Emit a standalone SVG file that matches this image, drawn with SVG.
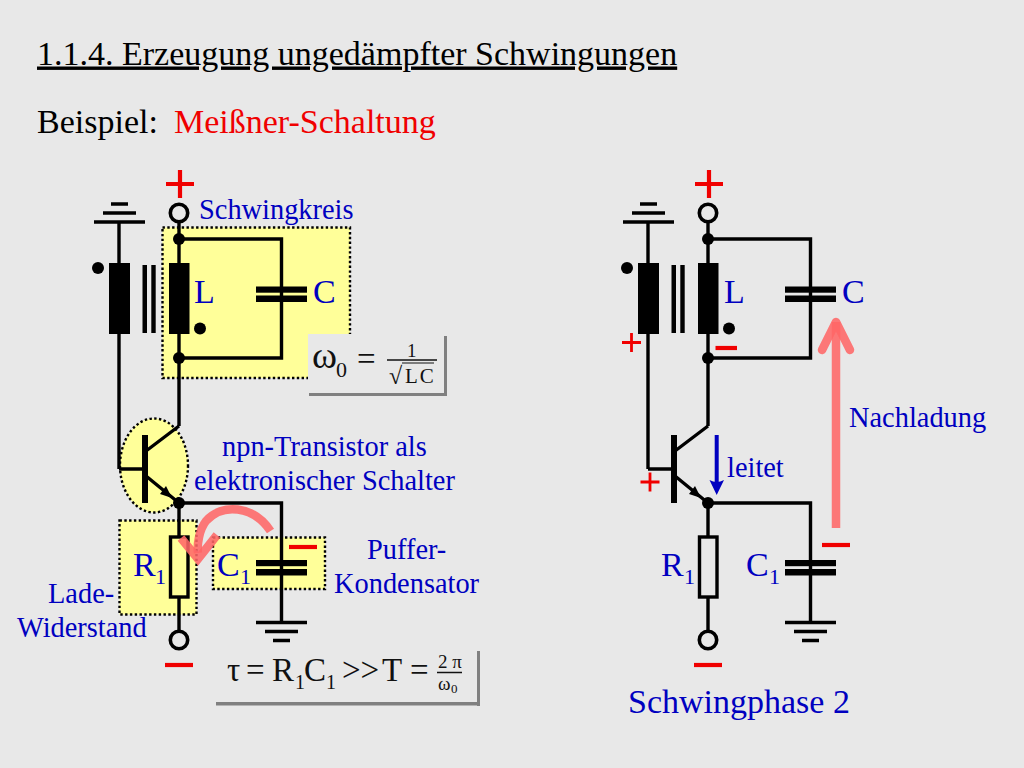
<svg xmlns="http://www.w3.org/2000/svg" width="1024" height="768" viewBox="0 0 1024 768">
<style>
text{font-family:"Liberation Serif","Times New Roman",serif}
.k{fill:#000}
.b{fill:#0000c0;font-size:28.4px}
.bl{fill:#0000c0;font-size:34px}
.bs{fill:#0000c0;font-size:22px}
.t{fill:#000;font-size:34px}
.eq{fill:#111;font-size:33px}
.w{fill:none;stroke:#000;stroke-width:3.4;stroke-linejoin:miter}
.zone{fill:#ffff99;stroke:#000;stroke-width:2.4;stroke-dasharray:2.4 2.4}
.sh{fill:#808080}
.pl{stroke:#f00000;stroke-width:4.2;fill:none}
.pl2{stroke:#f00000;stroke-width:2.8;fill:none}
.pa{fill:none;stroke:#ff6666;stroke-opacity:.87;stroke-width:8.500}
.pah{stroke-linecap:round;stroke-linejoin:round}
</style>
<defs>
<g id="sup"><path class="w" d="M-25 9H26M-16 0H17M-8 -9H9"/></g>
<g id="gnd"><path class="w" d="M-25.500 0H25.500M-16.500 9H16.500M-8.500 18H8.500"/></g>
<g id="cap"><rect x="-25.500" y="-7.500" width="51" height="6.200" class="k"/><rect x="-25.500" y="1.500" width="51" height="6.500" class="k"/></g>
<g id="term"><circle r="8.700" fill="none" stroke="#000" stroke-width="3.600"/></g>
<g id="coils">
<rect x="-70" y="24" width="21" height="71" class="k"/>
<rect x="-10" y="24" width="20.500" height="71" class="k"/>
<rect x="-36.500" y="26" width="4.500" height="68" class="k"/>
<rect x="-27.700" y="26" width="4.400" height="68" class="k"/>
<circle cx="-81" cy="29" r="6" class="k"/>
<circle cx="21" cy="89.500" r="6" class="k"/>
</g>
<g id="npn">
<rect x="-37" y="-34" width="6" height="68" class="k"/>
<path class="w" d="M-33 -18L0 -43M-33 7L0 34M-34 0H-60"/>
<path class="k" d="M-7 29L-19 25L-13 17Z"/>
</g>
<g id="plus"><path class="pl" d="M-14 0H14M0 -14V14"/></g>
<g id="minus"><path class="pl" d="M-14 0H14"/></g>
<g id="plus2"><path class="pl2" d="M-9.500 0H9.500M0 -9.500V9.500"/></g>
</defs>

<rect width="1024" height="768" fill="#e8e8e8"/>

<text x="37" y="64.500" class="t" text-decoration="underline">1.1.4. Erzeugung ungedämpfter Schwingungen</text>
<text x="37" y="132.500" class="t">Beispiel:</text>
<text x="174" y="132.500" class="t" style="fill:#f00000">Meißner-Schaltung</text>

<g id="zones">
<path class="zone" d="M162.500 227.500H350V378H162.500Z"/>
<ellipse class="zone" cx="154" cy="465.500" rx="34" ry="47"/>
<rect class="zone" x="119.500" y="520.500" width="77" height="94"/>
<rect class="zone" x="213" y="537.500" width="112" height="51.500"/>
</g>

<g id="formula-omega">
<rect x="308" y="334" width="136" height="59" fill="#e8e8e8"/>
<rect class="sh" x="444" y="336" width="3" height="60"/>
<rect class="sh" x="309" y="393" width="138" height="3"/>
<text x="312" y="368" class="eq" style="font-size:38px">ω</text>
<text x="336" y="377" class="eq" style="font-size:22px">0</text>
<text x="357" y="370" class="eq">=</text>
<text x="407" y="357" class="eq" style="font-size:19px">1</text>
<path d="M387 360H437" stroke="#111" stroke-width="1.500"/>
<text x="389" y="384" class="eq" style="font-size:24px">√</text>
<path d="M402 363H434" stroke="#111" stroke-width="1"/>
<text x="405" y="383" class="eq" style="font-size:21px;letter-spacing:2px">LC</text>
</g>

<g id="connectors">
<path class="w" d="M179 222V426M179 239H281.500V358H179M119 222V469M179 503V537M179 597V631M179 503H281.500V622"/>
<path class="w" d="M708 222V426M708 239H810.500V358H708M648 222V469M708 503V537M708 597V631M708 503H810.500V622"/>
</g>

<g id="left-circuit">
<g id="L1-group"><use href="#coils" transform="translate(179,239)"/></g>
<use href="#sup" transform="translate(119,213)"/>
<use href="#term" transform="translate(179,213)"/>
<use href="#plus" transform="translate(180,184)"/>
<circle cx="179" cy="239" r="6" class="k"/>
<circle cx="179" cy="358" r="6" class="k"/>
<use href="#cap" transform="translate(281.500,294)"/>
<use href="#npn" transform="translate(179,469)"/>
<circle cx="179" cy="503" r="6" class="k"/>
<rect x="170.500" y="537" width="17.500" height="60" fill="none" stroke="#000" stroke-width="3.400"/>
<use href="#cap" transform="translate(281.500,567.500)"/>
<use href="#gnd" transform="translate(281.500,622.500)"/>
<use href="#term" transform="translate(179,640)"/>
<use href="#minus" transform="translate(179,665)"/>
<use href="#minus" transform="translate(303,547)"/>
</g>

<g id="left-arrow">
<path class="pa" d="M270.500 531C253 505 222 503 206 521C199 530 197 545 198 553"/>
<path class="pa" d="M181 538L198 559L217 535"/>
</g>

<g id="left-labels">
<text x="199" y="219" class="b">Schwingkreis</text>
<text x="194" y="303" class="bl">L</text>
<text x="313" y="303" class="bl">C</text>
<text x="222" y="456" class="b">npn-Transistor als</text>
<text x="194" y="490" class="b">elektronischer Schalter</text>
<text x="133" y="576" class="bl">R</text><text x="155" y="584" class="bs">1</text>
<text x="217" y="576" class="bl">C</text><text x="240" y="584" class="bs">1</text>
<text x="367" y="559" class="b">Puffer-</text>
<text x="334" y="593" class="b">Kondensator</text>
<text x="48" y="603" class="b">Lade-</text>
<text x="17" y="637" class="b">Widerstand</text>
</g>

<g id="formula-tau">
<rect class="sh" x="477" y="651" width="3" height="55"/>
<rect class="sh" x="216" y="702" width="264" height="3.500"/>
<text x="227" y="681" class="eq">τ</text>
<text x="246" y="681" class="eq">=</text>
<text x="272" y="681" class="eq">R</text>
<text x="295" y="689" class="eq" style="font-size:20px">1</text>
<text x="304" y="681" class="eq">C</text>
<text x="326" y="689" class="eq" style="font-size:20px">1</text>
<text x="342" y="681" class="eq">&gt;&gt;</text>
<text x="382" y="681" class="eq">T</text>
<text x="410" y="681" class="eq">=</text>
<text x="438" y="668" class="eq" style="font-size:19px">2 π</text>
<path d="M437 672.500H462" stroke="#111" stroke-width="1.500"/>
<text x="438" y="690" class="eq" style="font-size:19px">ω</text>
<text x="451" y="693" class="eq" style="font-size:13px">0</text>
</g>

<g id="right-circuit">
<g id="L2-group"><use href="#coils" transform="translate(708,239)"/></g>
<use href="#sup" transform="translate(648,213)"/>
<use href="#term" transform="translate(708,213)"/>
<use href="#plus" transform="translate(709,184)"/>
<circle cx="708" cy="239" r="6" class="k"/>
<circle cx="708" cy="358" r="6" class="k"/>
<use href="#cap" transform="translate(810.500,294)"/>
<use href="#npn" transform="translate(708,469)"/>
<circle cx="708" cy="503" r="6" class="k"/>
<rect x="699.500" y="537" width="17.500" height="60" fill="none" stroke="#000" stroke-width="3.400"/>
<use href="#cap" transform="translate(810.500,567.500)"/>
<use href="#gnd" transform="translate(810.500,622.500)"/>
<use href="#term" transform="translate(708,640)"/>
<use href="#minus" transform="translate(708,665)"/>
<use href="#minus" transform="translate(836,545)"/>
<use href="#plus2" transform="translate(631.500,342.500)"/>
<use href="#plus2" transform="translate(650,482)"/>
<path class="pl" d="M715.500 348H737"/>
</g>

<g id="right-arrows">
<path class="pa" d="M836 528V322"/>
<path class="pa pah" d="M822 350L836 322L850 350"/>
<path d="M716.700 435V488" stroke="#0000c0" stroke-width="4" fill="none"/>
<path d="M716.700 495L709.500 480Q716.700 484 724 480Z" fill="#0000c0"/>
</g>

<g id="right-labels">
<text x="724" y="303" class="bl">L</text>
<text x="842" y="303" class="bl">C</text>
<text x="849" y="427" class="b">Nachladung</text>
<text x="727" y="477" class="b">leitet</text>
<text x="661" y="576" class="bl">R</text><text x="684" y="584" class="bs">1</text>
<text x="746" y="576" class="bl">C</text><text x="769" y="584" class="bs">1</text>
<text x="628" y="713" class="bl">Schwingphase 2</text>
</g>
</svg>
